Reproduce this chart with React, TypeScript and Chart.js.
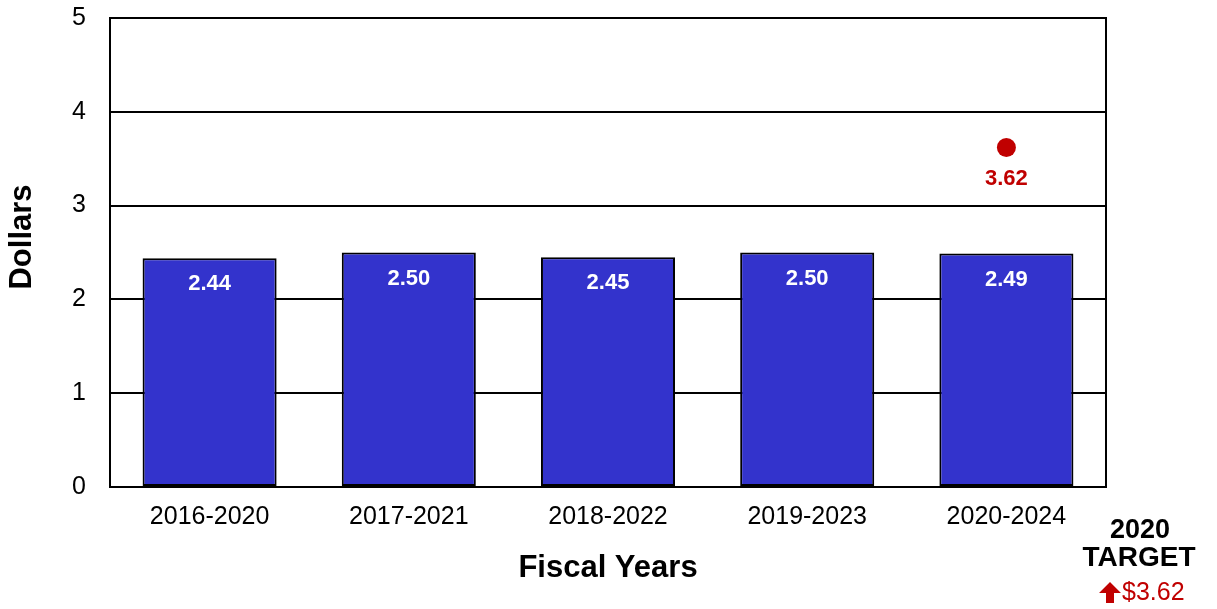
import React, { useEffect, useRef } from "react";
import { Chart, registerables } from "chart.js";

Chart.register(...registerables);

const categories = ["2016-2020", "2017-2021", "2018-2022", "2019-2023", "2020-2024"];
const actualValues = [2.44, 2.5, 2.45, 2.5, 2.49];
const targetValues: (number | null)[] = [null, null, null, null, 3.62];
const yMin = 0;
const yMax = 5;
const yStep = 1;
const xTitle = "Fiscal Years";
const yTitle = "Dollars";
const targetYear = "2020";
const targetWord = "TARGET";
const targetText = "$3.62";

const FONT = "Arial, 'Liberation Sans', sans-serif";
const BAR_COLOR = "#3333CC";
const RED = "#C00000";

const extrasPlugin = {
  id: "extras",
  afterDatasetsDraw(chart: any) {
    const ctx = chart.ctx;
    ctx.save();
    const barMeta = chart.getDatasetMeta(0);
    ctx.font = `bold 22px ${FONT}`;
    ctx.fillStyle = "#FFFFFF";
    ctx.textAlign = "center";
    ctx.textBaseline = "middle";
    barMeta.data.forEach((el: any, i: number) => {
      ctx.fillText(actualValues[i].toFixed(2), el.x, el.y + 26);
    });
    const ptMeta = chart.getDatasetMeta(1);
    ctx.fillStyle = RED;
    ptMeta.data.forEach((el: any, i: number) => {
      const v = targetValues[i];
      if (v == null) return;
      ctx.fillText(v.toFixed(2), el.x, el.y + 31);
    });
    ctx.restore();
  },
  afterDraw(chart: any) {
    const ctx = chart.ctx;
    const a = chart.chartArea;
    ctx.save();
    ctx.strokeStyle = "#000";
    ctx.lineWidth = 2;
    ctx.strokeRect(a.left, a.top, a.right - a.left, a.bottom - a.top);
    ctx.save();
    ctx.translate(22, 237);
    ctx.rotate(-Math.PI / 2);
    ctx.font = `bold 31px ${FONT}`;
    ctx.fillStyle = "#000";
    ctx.textAlign = "center";
    ctx.textBaseline = "middle";
    ctx.fillText(yTitle, 0, 0);
    ctx.restore();
    ctx.fillStyle = "#000";
    ctx.textAlign = "center";
    ctx.textBaseline = "middle";
    ctx.font = `bold 27px ${FONT}`;
    ctx.fillText(targetYear, 1140, 531);
    ctx.font = `bold 28px ${FONT}`;
    ctx.fillText(targetWord, 1139, 558);
    ctx.fillStyle = RED;
    ctx.font = `25px ${FONT}`;
    ctx.textAlign = "left";
    ctx.fillText(targetText, 1122, 593);
    const ax = 1110;
    ctx.beginPath();
    ctx.moveTo(ax, 582);
    ctx.lineTo(ax + 11, 593);
    ctx.lineTo(ax + 4, 593);
    ctx.lineTo(ax + 4, 603);
    ctx.lineTo(ax - 4, 603);
    ctx.lineTo(ax - 4, 593);
    ctx.lineTo(ax - 11, 593);
    ctx.closePath();
    ctx.fill();
    ctx.restore();
  },
};

export default function App() {
  const ref = useRef<HTMLCanvasElement | null>(null);
  useEffect(() => {
    if (!ref.current) return;
    const chart = new Chart(ref.current, {
      type: "bar",
      data: {
        labels: categories,
        datasets: [
          {
            type: "bar",
            label: "Actual",
            data: actualValues,
            backgroundColor: BAR_COLOR,
            borderColor: "#000",
            borderWidth: 2,
            borderSkipped: false,
            barPercentage: 0.673,
            categoryPercentage: 1,
            order: 2,
          },
          {
            type: "line",
            label: "Target",
            data: targetValues as any,
            showLine: false,
            pointRadius: 9.5,
            pointHoverRadius: 9.5,
            pointBackgroundColor: RED,
            pointBorderColor: RED,
            pointBorderWidth: 0,
            order: 1,
          } as any,
        ],
      },
      options: {
        animation: false,
        responsive: true,
        maintainAspectRatio: false,
        layout: { padding: { left: 0, right: 111, top: 18, bottom: 0 } },
        plugins: { legend: { display: false }, tooltip: { enabled: false } },
        scales: {
          x: {
            grid: { display: false, drawTicks: false },
            border: { display: true, color: "#000", width: 2 },
            ticks: { color: "#000", font: { family: FONT, size: 25 }, padding: 15, maxRotation: 0 },
            title: {
              display: true,
              text: xTitle,
              color: "#000",
              font: { family: FONT, size: 31, weight: "bold" },
              padding: { top: 0, bottom: 22 },
            },
            afterFit: (s: any) => {
              s.height = 122;
              s.paddingLeft = 0;
              s.paddingRight = 0;
            },
          },
          y: {
            min: yMin,
            max: yMax,
            grid: { color: "#000", lineWidth: 2, drawTicks: false },
            border: { display: true, color: "#000", width: 2 },
            ticks: { stepSize: yStep, color: "#000", font: { family: FONT, size: 25 }, padding: 24 },
            afterFit: (s: any) => {
              s.width = 110;
              s.paddingTop = 0;
              s.paddingBottom = 0;
            },
          },
        },
      },
      plugins: [extrasPlugin],
    });
    return () => chart.destroy();
  }, []);
  return (
    <div style={{ position: "absolute", left: 0, top: 0, width: 1217, height: 609, background: "#fff" }}>
      <canvas ref={ref} />
    </div>
  );
}
